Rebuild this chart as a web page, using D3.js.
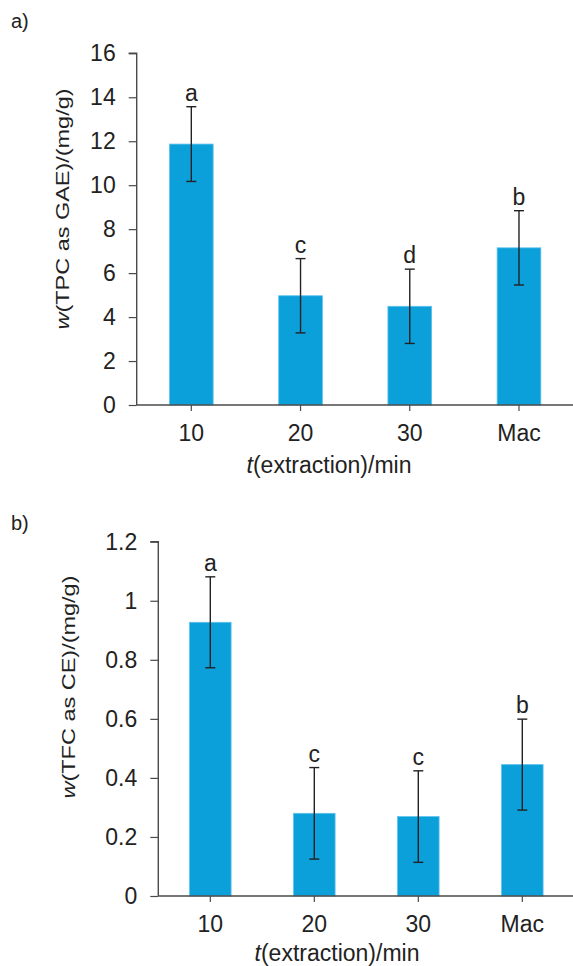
<!DOCTYPE html>
<html>
<head>
<meta charset="utf-8">
<script src="https://cdn.jsdelivr.net/npm/d3@7"></script>
<style>
  html, body { margin: 0; padding: 0; background: #fff; }
  svg { display: block; }
  text { font-family: "Liberation Sans", Arial, sans-serif; fill: #222; }
</style>
</head>
<body>
<svg id="chart" width="573" height="966"></svg>
<script>
// ---- data ----
const categories = ["10", "20", "30", "Mac"];
const tpcMeans = [11.87, 4.97, 4.49, 7.15];
const tpcErrors = [1.70, 1.69, 1.69, 1.69];
const tpcLetters = ["a", "c", "d", "b"];
const tpcTicks = [0, 2, 4, 6, 8, 10, 12, 14, 16];

const tfcMeans = [0.927, 0.280, 0.269, 0.445];
const tfcErrors = [0.154, 0.155, 0.155, 0.154];
const tfcLetters = ["a", "c", "c", "b"];
const tfcTicks = [0, 0.2, 0.4, 0.6, 0.8, 1.0, 1.2];

const svg = d3.select("#chart");
const BAR = "#0ca0db";
const AXIS = "#4a4a4a";
const ERR = "#222";

function panel(cfg) {
  const g = svg.append("g");
  const x = d3.scaleBand().domain(categories).range([cfg.left, cfg.right])
    .paddingInner(0.6).paddingOuter(0.3);
  const y = d3.scaleLinear().domain(cfg.domain).range([cfg.bottom, cfg.top]);

  // bars
  g.selectAll("rect.bar").data(categories).join("rect")
    .attr("x", d => x(d)).attr("width", x.bandwidth())
    .attr("y", (d, i) => y(cfg.means[i]))
    .attr("height", (d, i) => y(0) - y(cfg.means[i]))
    .attr("fill", BAR).attr("stroke", "#5ec2ec").attr("stroke-width", 0.8);

  // y axis
  const ya = g.append("g").attr("transform", `translate(${cfg.left},0)`)
    .call(d3.axisLeft(y).tickValues(cfg.ticks).tickSize(8).tickPadding(13)
      .tickFormat(cfg.fmt));
  // x axis
  const xa = g.append("g").attr("transform", `translate(0,${cfg.bottom})`)
    .call(d3.axisBottom(x).tickSize(6).tickPadding(14));
  [ya, xa].forEach(a => {
    a.select(".domain").attr("stroke", AXIS).attr("stroke-width", 1.4);
    a.selectAll(".tick line").attr("stroke", AXIS).attr("stroke-width", 1.2);
    a.selectAll(".tick text").attr("font-size", 23)
      .attr("font-family", "'Liberation Sans', Arial, sans-serif").attr("fill", "#222");
  });
  ya.select(".domain").attr("d", `M-8,${cfg.top}H0V${cfg.bottom}`);
  xa.select(".domain").attr("d", `M${cfg.left},0H${cfg.right}`);

  // error bars
  const cap = 5;
  const eb = g.append("g").attr("stroke", ERR).attr("stroke-width", 1.4);
  categories.forEach((c, i) => {
    const cx = x(c) + x.bandwidth() / 2;
    const hi = y(cfg.means[i] + cfg.errors[i]);
    const lo = y(cfg.means[i] - cfg.errors[i]);
    eb.append("line").attr("x1", cx).attr("x2", cx).attr("y1", hi).attr("y2", lo);
    eb.append("line").attr("x1", cx - cap).attr("x2", cx + cap).attr("y1", hi).attr("y2", hi);
    eb.append("line").attr("x1", cx - cap).attr("x2", cx + cap).attr("y1", lo).attr("y2", lo);
  });

  // significance letters
  g.selectAll("text.letter").data(categories).join("text")
    .attr("x", d => x(d) + x.bandwidth() / 2)
    .attr("y", (d, i) => y(cfg.means[i] + cfg.errors[i]) - 6)
    .attr("text-anchor", "middle").attr("font-size", 23)
    .text((d, i) => cfg.letters[i]);

  // y title (stretched along its length like the original)
  const yt = g.append("text")
    .attr("transform", `translate(${cfg.yTitleX},${cfg.yTitleY}) rotate(-90)`)
    .attr("text-anchor", "middle").attr("font-size", 18)
    .attr("textLength", cfg.yTitleLen).attr("lengthAdjust", "spacingAndGlyphs");
  yt.append("tspan").attr("font-style", "italic").text("w");
  yt.append("tspan").text(cfg.yTitle);

  // x title
  const xt = g.append("text").attr("x", cfg.xTitleX).attr("y", cfg.xTitleY)
    .attr("text-anchor", "middle").attr("font-size", 23);
  xt.append("tspan").attr("font-style", "italic").text("t");
  xt.append("tspan").text("(extraction)/min");

  // panel label
  svg.append("text").attr("x", 11).attr("y", cfg.labelY)
    .attr("font-family", "'Open Sans', 'Noto Sans', sans-serif")
    .attr("font-size", 20).text(cfg.label);
}

panel({
  left: 136.7, right: 573.6, top: 53.3, bottom: 405, domain: [0, 16],
  means: tpcMeans, errors: tpcErrors, letters: tpcLetters, ticks: tpcTicks,
  fmt: d3.format("d"),
  yTitle: "(TPC as GAE)/(mg/g)", yTitleX: 69, yTitleY: 209, yTitleLen: 241,
  xTitleX: 329, xTitleY: 473, label: "a)", labelY: 28
});

panel({
  left: 158.3, right: 574.3, top: 541.7, bottom: 896, domain: [0, 1.2],
  means: tfcMeans, errors: tfcErrors, letters: tfcLetters, ticks: tfcTicks,
  fmt: d => d3.format("~g")(d),
  yTitle: "(TFC as CE)/(mg/g)", yTitleX: 75, yTitleY: 687, yTitleLen: 223,
  xTitleX: 337, xTitleY: 961, label: "b)", labelY: 530
});
</script>
</body>
</html>
